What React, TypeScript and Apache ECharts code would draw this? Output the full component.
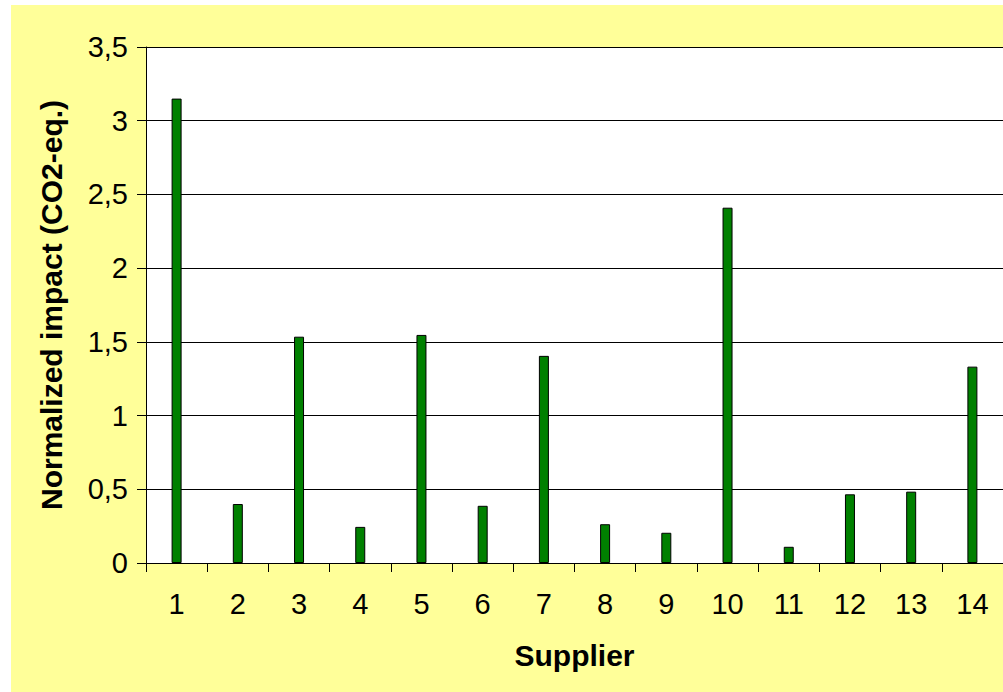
import React, { useEffect, useRef } from "react";
import * as echarts from "echarts";

// Supplier numbers along the category axis
const suppliers: string[] = ["1", "2", "3", "4", "5", "6", "7", "8", "9", "10", "11", "12", "13", "14"];

// Normalized CO2-eq. impact per supplier
const impact: number[] = [3.15, 0.4, 1.535, 0.245, 1.547, 0.388, 1.405, 0.263, 0.205, 2.41, 0.11, 0.466, 0.484, 1.332];

// Value axis range and step
const yMin = 0;
const yMax = 3.5;
const yStep = 0.5;

const FONT = '"Liberation Sans", Arial, Helvetica, sans-serif';

export default function App() {
  const ref = useRef<HTMLDivElement>(null);

  useEffect(() => {
    if (!ref.current) return;
    const chart = echarts.init(ref.current, undefined, { renderer: "svg" });

    chart.setOption({
      animation: false,
      backgroundColor: "#FFFF99",
      graphic: [
        // white page margin above and left of the chart panel
        { type: "rect", left: 0, top: 0, shape: { width: 1003, height: 5 }, style: { fill: "#FFFFFF" }, silent: true },
        { type: "rect", left: 0, top: 0, shape: { width: 11, height: 692 }, style: { fill: "#FFFFFF" }, silent: true },
      ],
      grid: {
        left: 146,
        top: 47,
        right: -4,
        bottom: 129,
        show: true,
        backgroundColor: "#FFFFFF",
        borderWidth: 0,
      },
      xAxis: {
        type: "category",
        data: suppliers,
        boundaryGap: true,
        name: "Supplier",
        nameLocation: "middle",
        nameGap: 77,
        nameTextStyle: { fontFamily: FONT, fontSize: 30, fontWeight: "bold", color: "#000" },
        axisLine: { show: true, lineStyle: { color: "#000", width: 1 } },
        axisTick: { show: true, alignWithLabel: false, length: 9, lineStyle: { color: "#000" } },
        axisLabel: { fontFamily: FONT, fontSize: 29, color: "#000", margin: 26, interval: 0 },
        splitLine: { show: false },
      },
      yAxis: {
        type: "value",
        min: yMin,
        max: yMax,
        interval: yStep,
        name: "Normalized impact (CO2-eq.)",
        nameLocation: "middle",
        nameGap: 80,
        nameTextStyle: { fontFamily: FONT, fontSize: 30, fontWeight: "bold", color: "#000" },
        axisLine: { show: true, lineStyle: { color: "#000", width: 1 } },
        axisTick: { show: true, length: 9, lineStyle: { color: "#000" } },
        axisLabel: {
          fontFamily: FONT,
          fontSize: 29,
          color: "#000",
          margin: 18,
          formatter: (v: number) => String(v).replace(".", ","),
        },
        splitLine: { show: true, lineStyle: { color: "#000", width: 1 } },
      },
      series: [
        {
          type: "bar",
          data: impact,
          barWidth: 10,
          itemStyle: {
            color: "#008000",
            borderColor: "#000000",
            borderWidth: 1,
          },
        },
      ],
    });

    return () => chart.dispose();
  }, []);

  return (
    <div
      ref={ref}
      style={{ position: "fixed", left: 0, top: 0, width: 1003, height: 692 }}
    />
  );
}
